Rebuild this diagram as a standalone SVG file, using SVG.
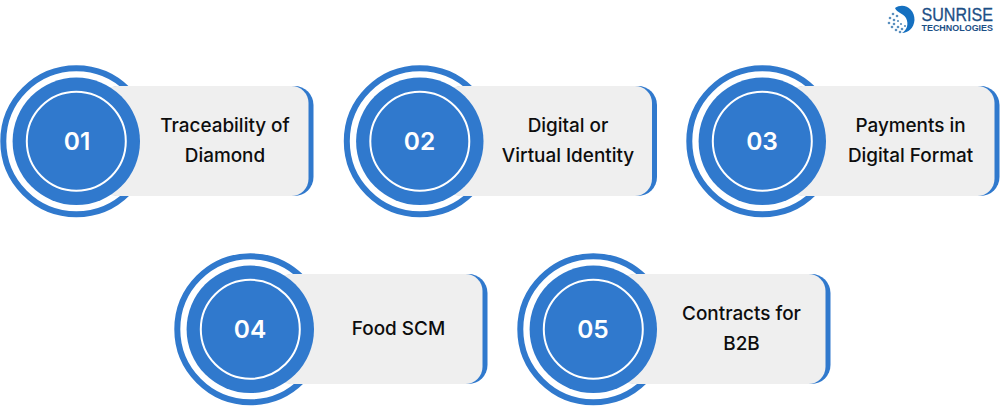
<svg xmlns="http://www.w3.org/2000/svg" width="1000" height="406" viewBox="0 0 1000 406">
<style>
.back{fill:#3079cd}
.card{fill:#efefef}
.outer{fill:none;stroke:#3079cd;stroke-width:6}
.inner{fill:#3079cd}
.ring{fill:none;stroke:#fff;stroke-width:2}
.num{font:600 24.500px Inter,"Liberation Sans",sans-serif;fill:#fff;text-anchor:middle}
.lbl{font:500 18.900px Inter,"Liberation Sans",sans-serif;fill:#0d0d0d;text-anchor:middle}
.logo{font-family:"Liberation Sans",sans-serif;fill:#1c4f86}
.dot{fill:#5a8fbe}
</style>
<defs>
<g id="badge">
<circle class="outer" cx="76.300" cy="141.300" r="73"/>
<rect class="back" x="100" y="86" width="213.500" height="110" rx="19"/>
<rect class="card" x="100" y="86" width="208.500" height="110" rx="17"/>
<circle class="inner" cx="76.300" cy="141.300" r="63.700"/>
<circle class="ring" cx="76.300" cy="141.300" r="49.500"/>
</g>
</defs>
<g id="logo">
<path d="M895 8C903 2 915 8 914.500 20C914 28 908 33 902 33C907 30 909 24 906 18C903 13 897 13 895 8Z" fill="#1570c0"/>
<circle class="dot" cx="893" cy="14" r="1.300"/><circle class="dot" cx="890" cy="18" r="1.300"/><circle class="dot" cx="889" cy="23" r="1.300"/><circle class="dot" cx="892" cy="27" r="1.300"/><circle class="dot" cx="896" cy="30" r="1.300"/><circle class="dot" cx="900" cy="32" r="1.300"/><circle class="dot" cx="894" cy="20" r="1.300"/><circle class="dot" cx="897" cy="16" r="1.300"/><circle class="dot" cx="894" cy="24" r="1.300"/><circle class="dot" cx="898" cy="27" r="1.300"/><circle class="dot" cx="902" cy="29" r="1.300"/><circle class="dot" cx="898" cy="21" r="1.100"/><circle class="dot" cx="901" cy="24" r="1.100"/><circle class="dot" cx="905" cy="26" r="1.100"/>
<text class="logo" x="921.500" y="21" font-size="18" stroke="#1c4f86" stroke-width="0.300" textLength="71.500" lengthAdjust="spacingAndGlyphs">SUNRISE</text>
<text class="logo" x="921.500" y="31" font-size="8.500" font-weight="700" textLength="71.500" lengthAdjust="spacingAndGlyphs">TECHNOLOGIES</text>
</g>
<g id="connectors"/>
<g id="node-01"><use href="#badge"/><text class="num" x="77" y="150">01</text><text class="lbl" x="225" y="132">Traceability of</text><text class="lbl" x="225" y="162">Diamond</text></g>
<g id="node-02" transform="translate(343.500 0)"><use href="#badge"/><text class="num" x="76" y="150">02</text><text class="lbl" x="224.500" y="132">Digital or</text><text class="lbl" x="224.500" y="162">Virtual Identity</text></g>
<g id="node-03" transform="translate(686 0)"><use href="#badge"/><text class="num" x="76" y="150">03</text><text class="lbl" x="224.500" y="132">Payments in</text><text class="lbl" x="224.500" y="162">Digital Format</text></g>
<g id="node-04" transform="translate(174 188)"><use href="#badge"/><text class="num" x="76" y="150">04</text><text class="lbl" x="224.500" y="147">Food SCM</text></g>
<g id="node-05" transform="translate(517 188)"><use href="#badge"/><text class="num" x="76" y="150">05</text><text class="lbl" x="224.500" y="132">Contracts for</text><text class="lbl" x="224.500" y="162">B2B</text></g>
</svg>
